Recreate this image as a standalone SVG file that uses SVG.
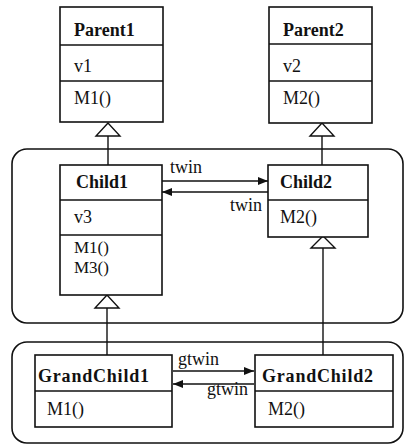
<svg xmlns="http://www.w3.org/2000/svg" width="405" height="446" viewBox="0 0 405 446">
  <defs>
    <style>
      .box { fill: #fff; stroke: #111; stroke-width: 1.6; }
      .sep { stroke: #111; stroke-width: 1.3; }
      .frame { fill: none; stroke: #111; stroke-width: 1.6; }
      .line { stroke: #111; stroke-width: 1.4; fill: none; }
      .tri { fill: #fff; stroke: #111; stroke-width: 1.4; }
      .name { font-family: "Liberation Serif", "Times New Roman", serif; font-weight: bold; font-size: 18px; fill: #111; }
      .txt { font-family: "Liberation Serif", "Times New Roman", serif; font-size: 18px; fill: #111; }
      .tight { font-size: 17px; }
    </style>
    <marker id="solid" viewBox="0 0 10 8" refX="10" refY="4" markerWidth="10" markerHeight="8" markerUnits="userSpaceOnUse" orient="auto">
      <path d="M0,0 L10,4 L0,8 Z" fill="#111"/>
    </marker>
  </defs>
  <rect width="405" height="446" fill="#fff"/>

  <!-- package frames -->
  <rect class="frame" x="12" y="149" width="391" height="174" rx="15"/>
  <rect class="frame" x="12" y="342" width="391" height="101" rx="15"/>

  <g id="connectors">
    <!-- generalisations -->
    <line class="line" x1="108" y1="136" x2="108" y2="165"/>
    <polygon class="tri" points="108,123 96,136 120,136"/>
    <line class="line" x1="322" y1="136" x2="322" y2="165"/>
    <polygon class="tri" points="322,123 310,136 334,136"/>
    <line class="line" x1="107" y1="308" x2="107" y2="355"/>
    <polygon class="tri" points="107,295 95,308 119,308"/>
    <line class="line" x1="323" y1="248" x2="323" y2="355"/>
    <polygon class="tri" points="323,236 311,248 335,248"/>
    <!-- twin associations -->
    <line class="line" x1="162" y1="181" x2="268" y2="181" marker-end="url(#solid)"/>
    <line class="line" x1="268" y1="192" x2="162" y2="192" marker-end="url(#solid)"/>
    <text class="txt" x="170" y="173">twin</text>
    <text class="txt" x="262" y="211" text-anchor="end">twin</text>
    <line class="line" x1="173" y1="371" x2="254" y2="371" marker-end="url(#solid)"/>
    <line class="line" x1="254" y1="384" x2="173" y2="384" marker-end="url(#solid)"/>
    <text class="txt" x="178" y="365">gtwin</text>
    <text class="txt" x="248" y="395" text-anchor="end">gtwin</text>
  </g>

  <g id="Parent1">
    <rect class="box" x="60" y="7" width="103" height="115"/>
    <line class="sep" x1="60" y1="45" x2="163" y2="45"/>
    <line class="sep" x1="60" y1="81" x2="163" y2="81"/>
    <text class="name" x="74" y="36">Parent1</text>
    <text class="txt" x="74" y="72">v1</text>
    <text class="txt" x="74" y="104">M1()</text>
  </g>

  <g id="Parent2">
    <rect class="box" x="269" y="7" width="103" height="116"/>
    <line class="sep" x1="269" y1="44" x2="372" y2="44"/>
    <line class="sep" x1="269" y1="81" x2="372" y2="81"/>
    <text class="name" x="283" y="36">Parent2</text>
    <text class="txt" x="283" y="72">v2</text>
    <text class="txt" x="283" y="104">M2()</text>
  </g>

  <g id="Child1">
    <rect class="box" x="60" y="165" width="102" height="130"/>
    <line class="sep" x1="60" y1="200" x2="162" y2="200"/>
    <line class="sep" x1="60" y1="235" x2="162" y2="235"/>
    <text class="name" x="76" y="188">Child1</text>
    <text class="txt" x="74" y="223">v3</text>
    <text class="txt tight" x="74" y="253">M1()</text>
    <text class="txt tight" x="74" y="273">M3()</text>
  </g>

  <g id="Child2">
    <rect class="box" x="268" y="165" width="100" height="72"/>
    <line class="sep" x1="268" y1="200" x2="368" y2="200"/>
    <text class="name" x="280" y="188">Child2</text>
    <text class="txt" x="280" y="223">M2()</text>
  </g>

  <g id="GrandChild1">
    <rect class="box" x="35" y="355" width="137" height="72"/>
    <line class="sep" x1="35" y1="391" x2="172" y2="391"/>
    <text class="name" x="38" y="382" textLength="111">GrandChild1</text>
    <text class="txt" x="47" y="415">M1()</text>
  </g>

  <g id="GrandChild2">
    <rect class="box" x="255" y="355" width="138" height="72"/>
    <line class="sep" x1="255" y1="391" x2="393" y2="391"/>
    <text class="name" x="262" y="382" textLength="111">GrandChild2</text>
    <text class="txt" x="268" y="415">M2()</text>
  </g>
</svg>
